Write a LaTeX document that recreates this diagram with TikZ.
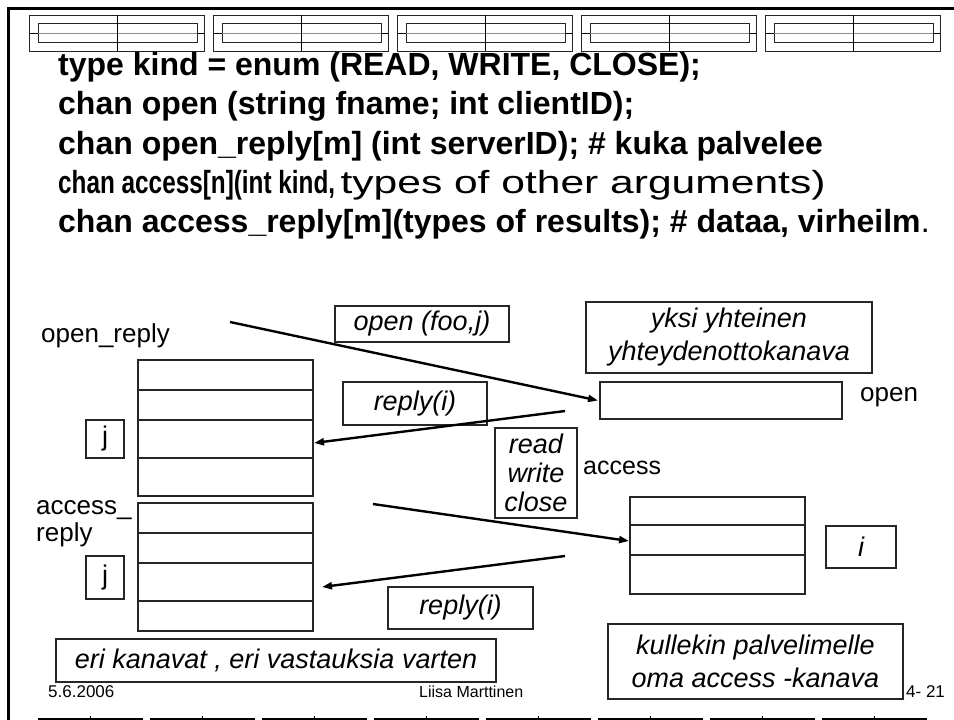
\documentclass[tikz,border=0pt]{standalone}
\usepackage{fontspec}
\setmainfont{Liberation Sans}
\usetikzlibrary{arrows.meta,calc}
\begin{document}
\begin{tikzpicture}[x=1pt,y=-1pt,
  box/.style={draw=black!85,line width=1.1pt,inner sep=0pt,outer sep=0pt,anchor=north west,align=center},
  code/.style={anchor=base west,inner sep=0pt,font=\fontsize{32}{38}\selectfont\bfseries},
  lbl/.style={anchor=base west,inner sep=0pt,font=\fontsize{26}{30}\selectfont},
  itx/.style={font=\fontsize{27}{33}\selectfont\itshape},
  foot/.style={anchor=base west,inner sep=0pt,font=\fontsize{17}{20}\selectfont},
  arr/.style={line width=2.4pt,-{Triangle[length=10pt,width=7pt]}},
  barline/.style={line width=0.9pt,draw=black!85}]
\useasboundingbox (0,0) rectangle (954,720);
% frame
\draw[line width=3pt] (8.5,720) -- (8.5,8.5) -- (954,8.5);
% top bar
\foreach \k in {0,...,4}{
  \pgfmathsetmacro\ox{29+184*\k}
  \draw[barline] (\ox,15) rectangle ++(175,36);
  \draw[barline] (\ox+9,23) rectangle ++(159,19);
  \draw[line width=0.9pt,draw=black!45] (\ox,33) -- ++(175,0);
  \draw[line width=0.9pt] (\ox,33) -- ++(9,0);
  \draw[line width=0.9pt] (\ox+168,33) -- ++(7,0);
  \draw[line width=0.9pt] (\ox+88,15) -- ++(0,36);
}
% bottom bar
\foreach \k in {0,...,7}{
  \pgfmathsetmacro\bx{38+112*\k}
  \draw[line width=2pt] (\bx,719) -- ++(105,0);
  \draw[line width=0.8pt] (\bx+52,716) -- ++(0,4);
}
% code text
\node[code] (l1) at (58,75) {type kind = enum (READ, WRITE, CLOSE);};
\node[code] (l2) at (58,114) {chan open (string fname; int clientID);};
\node[code] (l3) at (58,154) {chan open\_reply[m] (int serverID); \# kuka palvelee};
\node[code] (l4) at (58,193) {\scalebox{0.76}[1]{chan access[n](int kind,}\,\mdseries\scalebox{1.33}[1]{types of other arguments)}};
\node[code] (l5) at (58,232) {chan access\_reply[m](types of results); \# dataa, virheilm\mdseries.};
% labels
\node[lbl] (lor) at (41,342) {open\_reply};
\node[lbl] (lop) at (860,401) {open};
\node[lbl,font=\fontsize{25}{30}\selectfont] (lac) at (583,474) {access};
\node[lbl] (lar1) at (36,514) {access\_};
\node[lbl] (lar2) at (36,541) {reply};
% boxes with text
\node[box,itx,minimum width=174pt,minimum height=36pt] (bopen) at (335,306) {open (foo,j)};
\node[box,itx,minimum width=286pt,minimum height=71pt] (byksi) at (586,302) {yksi yhteinen\\yhteydenottokanava};
\node[box,minimum width=242pt,minimum height=37pt] (openq) at (600,382) {};
\node[box,itx,minimum width=144pt,minimum height=43pt] (brep1) at (343,382) {reply(i)};
\node[box,minimum width=82pt,minimum height=90pt,font=\fontsize{27}{29}\selectfont\itshape] (brwc) at (495,428) {read\\write\\close};
\node[box,itx,minimum width=70pt,minimum height=42pt] (bi) at (826,526) {i};
\node[box,itx,minimum width=145pt,minimum height=42pt] (brep2) at (388,587) {reply(i)};
\node[box,itx,minimum width=440pt,minimum height=43pt] (beri) at (56,639) {eri kanavat , eri vastauksia varten};
\node[box,itx,minimum width=295pt,minimum height=75pt] (bkul) at (608,624) {kullekin palvelimelle\\oma access -kanava};
\node[box,font=\fontsize{27}{33}\selectfont,minimum width=38pt,minimum height=38pt] (bj1) at (86,420) {j};
\node[box,font=\fontsize{27}{33}\selectfont,minimum width=38pt,minimum height=43pt] (bj2) at (86,556) {j};
% open_reply stack
\node[box,minimum width=175pt,minimum height=30pt] (or1) at (138,360) {};
\node[box,minimum width=175pt,minimum height=30pt] (or2) at (138,390) {};
\node[box,minimum width=175pt,minimum height=38pt] (or3) at (138,420) {};
\node[box,minimum width=175pt,minimum height=38pt] (or4) at (138,458) {};
% access_reply stack
\node[box,minimum width=175pt,minimum height=30pt] (ar1) at (138,503) {};
\node[box,minimum width=175pt,minimum height=30pt] (ar2) at (138,533) {};
\node[box,minimum width=175pt,minimum height=38pt] (ar3) at (138,563) {};
\node[box,minimum width=175pt,minimum height=30pt] (ar4) at (138,601) {};
% access stack
\node[box,minimum width=175pt,minimum height=28pt] (ac1) at (630,497) {};
\node[box,minimum width=175pt,minimum height=30pt] (ac2) at (630,525) {};
\node[box,minimum width=175pt,minimum height=39pt] (ac3) at (630,555) {};
% arrows
\coordinate (s1) at (230,322);
\coordinate (s2) at (565,411);
\coordinate (s3) at (373,504);
\coordinate (s4) at (565,556);
\draw[arr] (s1) -- ($(openq.west)+(-2,0)$);
\draw[arr] (s2) -- ($(or3.east)+(1,4)$);
\draw[arr] (s3) -- ($(ac2.west)+(-1,1)$);
\draw[arr] (s4) -- ($(ar3.east)+(9,5)$);
% footer
\node[foot] (fdate) at (48,697) {5.6.2006};
\node[foot,font=\fontsize{16}{20}\selectfont] (fname) at (419,697) {Liisa Marttinen};
\node[foot] (fnum) at (906,697) {4- 21};
\end{tikzpicture}
\end{document}
